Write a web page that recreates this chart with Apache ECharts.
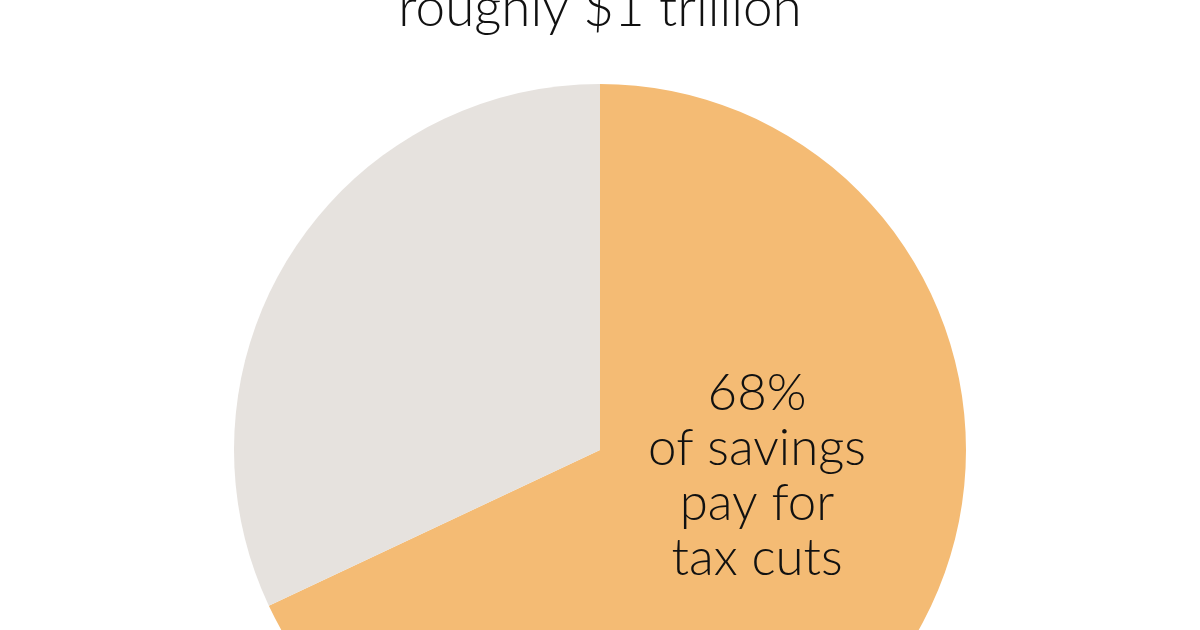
<!DOCTYPE html>
<html>
<head>
<meta charset="utf-8">
<script src="https://cdn.jsdelivr.net/npm/echarts@6/dist/echarts.min.js"></script>
<style>html,body{margin:0;padding:0;background:#fff}#c{width:1200px;height:630px}</style>
</head>
<body>
<div id="c"></div>
<script>
var titleText = 'roughly $1 trillion';
var categories = ['Pay for tax cuts', 'Other'];
var values = [68, 32];
var labels = ['68%\nof savings\npay for\ntax cuts', ''];
var colors = ['#F4BB74', '#E6E2DE'];

var chart = echarts.init(document.getElementById('c'), null, {renderer: 'canvas'});
chart.setOption({
  animation: false,
  backgroundColor: '#ffffff',
  title: {
    text: titleText,
    left: 'center',
    top: -23,
    textStyle: {fontFamily: 'Lato', fontWeight: 300, fontSize: 53, color: '#111'}
  },
  series: [{
    type: 'pie',
    center: [600, 450],
    radius: 366,
    startAngle: 90,
    clockwise: true,
    silent: true,
    itemStyle: {borderWidth: 0},
    labelLine: {show: false},
    label: {
      show: true,
      position: 'inside',
      fontFamily: 'Lato',
      fontWeight: 300,
      fontSize: 51,
      lineHeight: 55,
      color: '#111',
      align: 'center',
      formatter: function (p) { return labels[p.dataIndex]; }
    },
    labelLayout: {dy: -74},
    data: categories.map(function (c, i) {
      return {name: c, value: values[i], itemStyle: {color: colors[i]}};
    })
  }]
});
</script>
</body>
</html>
